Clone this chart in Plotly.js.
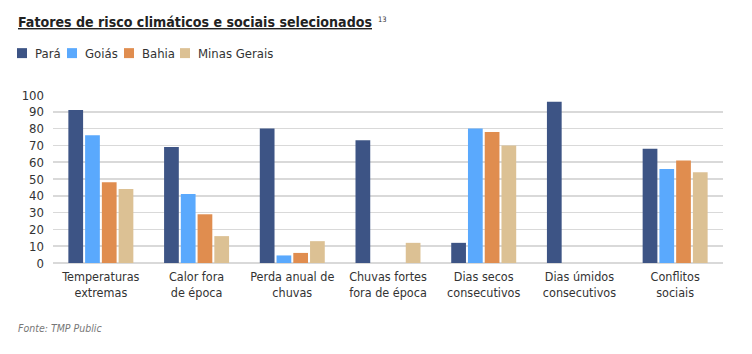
<!DOCTYPE html>
<html><head><meta charset="utf-8">
<script src="https://cdn.plot.ly/plotly-3.0.1.min.js"></script>
<style>html,body{margin:0;padding:0;background:#fff}#c{width:752px;height:354px}</style>
</head><body><div id="c"></div>
<script>
var categories = ["Temperaturas<br>extremas","Calor fora<br>de época","Perda anual de<br>chuvas","Chuvas fortes<br>fora de época","Dias secos<br>consecutivos","Dias úmidos<br>consecutivos","Conflitos<br>sociais"];
var para   = [91, 69, 80, 73, 12, 96, 68];
var goias  = [76, 41, 4.5, 0, 80, 0, 56];
var bahia  = [48, 29, 6, 0, 78, 0, 61];
var minas  = [44, 16, 13, 12, 70, 0, 54];
var seriesNames = ["Pará","Goiás","Bahia","Minas Gerais"];
var colors = ["#3d5485","#5aa9fd","#e08d4f","#dcc194"];
var vals = [para, goias, bahia, minas];
var font = "DejaVu Sans Condensed, DejaVu Sans, sans-serif";
var traces = vals.map(function(v,i){
  return {type:"bar", x:categories, y:v, name:seriesNames[i], marker:{color:colors[i]}, hoverinfo:"none"};
});
var L = 53, T = 95, W = 670, H = 168.5;
function px(x){ return (x-L)/W; }
function py(y){ return (T+H-y)/H; }
var legendX = [17, 67, 124, 180];
var shapes = [], annotations = [];
seriesNames.forEach(function(n,i){
  shapes.push({type:"rect", xref:"paper", yref:"paper", x0:px(legendX[i]), x1:px(legendX[i]+10),
    y0:py(58), y1:py(48), fillcolor:colors[i], line:{width:0}});
  annotations.push({xref:"paper", yref:"paper", x:px(legendX[i]+16), y:py(53), xanchor:"left", yanchor:"middle",
    showarrow:false, text:n, font:{family:font, size:13, color:"#333"}});
});
annotations.push(
  {xref:"paper", yref:"paper", x:px(16), y:py(22), xanchor:"left", yanchor:"middle",
   showarrow:false, text:"<b><u>Fatores de risco climáticos e sociais selecionados</u></b>",
   font:{family:font, size:14.1, color:"#222"}},
  {xref:"paper", yref:"paper", x:px(376), y:py(19), xanchor:"left", yanchor:"middle",
   showarrow:false, text:"13", font:{family:font, size:7.5, color:"#333"}},
  {xref:"paper", yref:"paper", x:px(16), y:py(329), xanchor:"left", yanchor:"middle",
   showarrow:false, text:"<i>Fonte: TMP Public</i>", font:{family:font, size:10.5, color:"#777"}}
);
var layout = {
  width:752, height:354,
  margin:{l:L, r:752-L-W, t:T, b:354-T-H},
  paper_bgcolor:"#fff", plot_bgcolor:"#fff",
  barmode:"group", bargap:0.3, bargroupgap:0.12,
  font:{family:font, size:12, color:"#333"},
  showlegend:false,
  xaxis:{tickfont:{size:12.5, color:"#333"}, showline:false, ticks:"", showgrid:false, fixedrange:true, ticklabelstandoff:4},
  yaxis:{range:[0,100], dtick:10, tickfont:{size:13, color:"#333"}, gridcolor:"#d9d9d9", gridwidth:1.5,
         zeroline:true, zerolinecolor:"#d9d9d9", zerolinewidth:1.5, ticks:"", ticklen:0, fixedrange:true, ticklabelstandoff:8},
  shapes:shapes,
  annotations:annotations
};
Plotly.newPlot("c", traces, layout, {displayModeBar:false, staticPlot:true});
</script></body></html>
